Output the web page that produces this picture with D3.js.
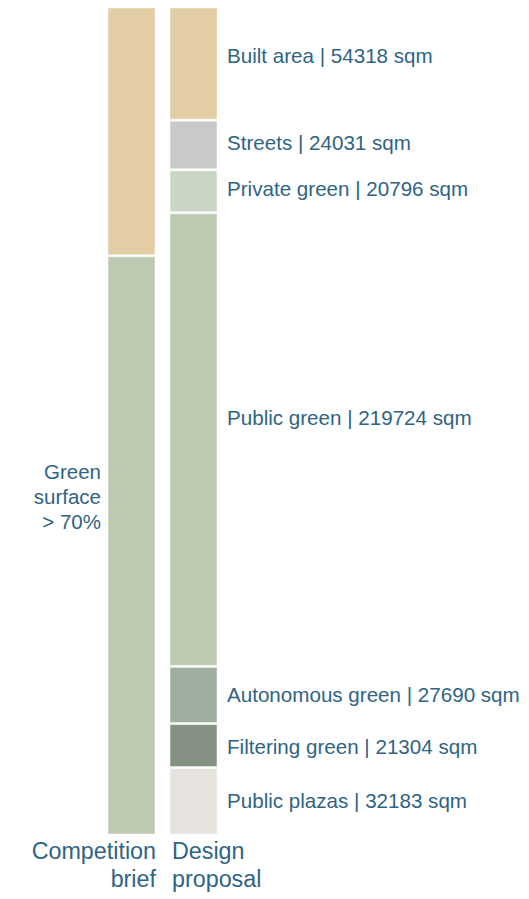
<!DOCTYPE html>
<html>
<head>
<meta charset="utf-8">
<script src="https://cdn.jsdelivr.net/npm/d3@7"></script>
<style>
  html, body { margin: 0; padding: 0; background: #fff; }
  svg { display: block; font-family: "Liberation Sans", Arial, Helvetica, sans-serif; }
</style>
</head>
<body>
<svg id="chart" width="529" height="899"></svg>
<script>
// Land-use breakdown: design proposal (sqm) vs. competition brief (share)
const proposalNames = ["Built area", "Streets", "Private green", "Public green", "Autonomous green", "Filtering green", "Public plazas"];
const proposalValues = [54318, 24031, 20796, 219724, 27690, 21304, 32183];
const proposalColors = ["#e2cda4", "#c9c9c9", "#c9d6c6", "#bdc9b0", "#9fae9f", "#859283", "#e6e3df"];

const briefNames = ["Built", "Green surface"];
const briefValues = [30, 70];
const briefColors = ["#e2cda4", "#bdc9b0"];

const barLabels = [["Competition", "brief"], ["Design", "proposal"]];
const greenNote = ["Green", "surface", "> 70%"];

const textColor = "#2f6485";
const svg = d3.select("#chart");

const y = d3.scaleLinear().range([8, 834]);
const x = d3.scaleBand().domain([0, 1]).range([108, 217]).paddingInner(0.242);

function stack(values) {
  const total = d3.sum(values);
  let acc = 0;
  return values.map(v => {
    const s = { y0: acc / total, y1: (acc + v) / total, v };
    acc += v;
    return s;
  });
}

const gap = 1;

function drawBar(idx, values, colors) {
  const segs = stack(values);
  const g = svg.append("g");
  g.selectAll("rect").data(segs).join("rect")
    .attr("x", x(idx))
    .attr("width", x.bandwidth())
    .attr("y", (d, i) => y(d.y0) + (i === 0 ? 0 : gap))
    .attr("height", (d, i) => y(d.y1) - y(d.y0) - (i === 0 ? 0 : gap) - (i === segs.length - 1 ? 0 : gap))
    .attr("fill", (d, i) => colors[i])
    .attr("stroke", "#ffffff")
    .attr("stroke-opacity", 0.5)
    .attr("stroke-width", 1);
  return segs;
}

drawBar(0, briefValues, briefColors);
const pSegs = drawBar(1, proposalValues, proposalColors);

// Segment labels for the proposal bar; tall segments carry their label a little above centre
const labelLift = [8, 2, 2, 22, 0, -1, 0];
svg.append("g").selectAll("text").data(pSegs).join("text")
  .attr("x", x(1) + x.bandwidth() + 10)
  .attr("y", (d, i) => (y(d.y0) + y(d.y1)) / 2 - labelLift[i])
  .attr("dy", "0.35em")
  .attr("fill", textColor)
  .attr("font-size", 20.6)
  .text((d, i) => `${proposalNames[i]} | ${proposalValues[i]} sqm`);

// Note beside the brief's green share
const bSegs = stack(briefValues);
const noteMid = (y(bSegs[1].y0) + y(bSegs[1].y1)) / 2 - 48;
svg.append("text")
  .attr("text-anchor", "end")
  .attr("fill", textColor)
  .attr("font-size", 20.5)
  .selectAll("tspan").data(greenNote).join("tspan")
  .attr("x", x(0) - 7)
  .attr("y", (d, i) => noteMid - 18 + i * 25)
  .text(d => d);

// Bar captions below the bars
barLabels.forEach((lines, idx) => {
  const left = idx === 0;
  svg.append("text")
    .attr("text-anchor", left ? "end" : "start")
    .attr("fill", textColor)
    .attr("font-size", 23.3)
    .selectAll("tspan").data(lines).join("tspan")
    .attr("x", left ? x(0) + x.bandwidth() + 1 : x(1) + 2)
    .attr("y", (d, i) => 859 + i * 27.5)
    .text(d => d);
});
</script>
</body>
</html>
